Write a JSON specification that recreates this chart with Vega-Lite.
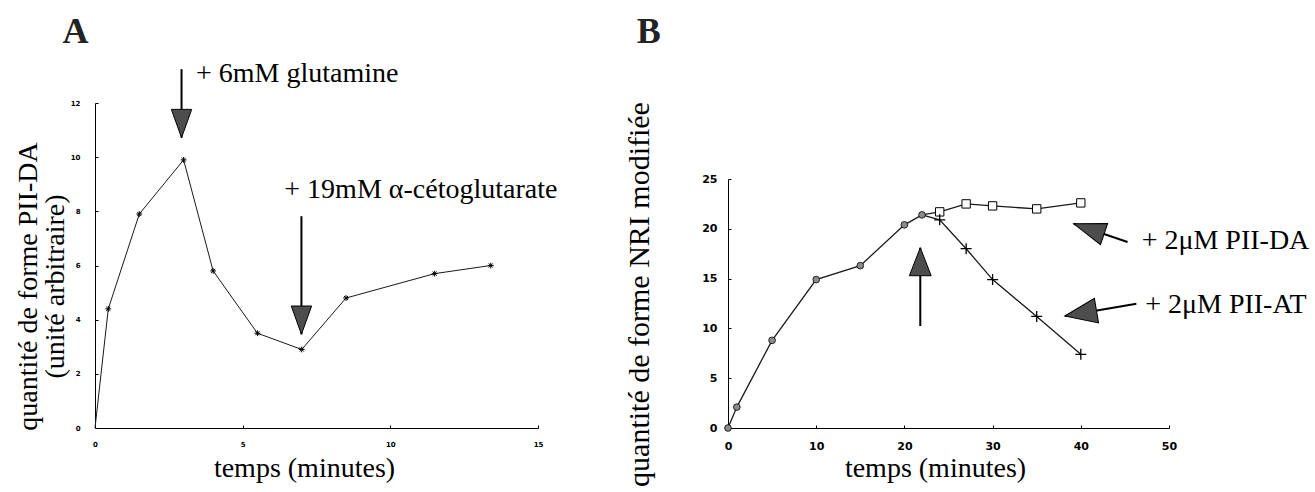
{
  "$schema": "https://vega.github.io/schema/vega-lite/v6.json",
  "background": "white",
  "padding": {"left": 14, "top": 14, "right": 0, "bottom": 0},
  "spacing": 65,
  "config": {
    "view": {"stroke": null},
    "font": "Liberation Serif",
    "axis": {
      "grid": false,
      "domainColor": "black",
      "domainWidth": 1,
      "tickColor": "black",
      "tickWidth": 1,
      "labelColor": "black",
      "labelFont": "DejaVu Sans",
      "labelFontWeight": "bold",
      "labelFlush": false,
      "labelOverlap": false,
      "titleFont": "Liberation Serif",
      "titleFontWeight": "normal",
      "titleFontSize": 28,
      "titleColor": "black"
    }
  },
  "datasets": {
    "curveA": [
      {"t": 0, "v": 0},
      {"t": 0.45, "v": 4.4},
      {"t": 1.5, "v": 7.9},
      {"t": 3, "v": 9.9},
      {"t": 4, "v": 5.8},
      {"t": 5.5, "v": 3.5},
      {"t": 7, "v": 2.9},
      {"t": 8.5, "v": 4.8},
      {"t": 11.5, "v": 5.7},
      {"t": 13.4, "v": 6.0}
    ],
    "arrowsA": [
      {"t": 2.93, "v": 13.25, "v2": 10.72},
      {"t": 6.99, "v": 7.82, "v2": 3.46}
    ],
    "textsA": [
      {"t": 3.42, "v": 12.77, "label": "+ 6mM glutamine"},
      {"t": 6.41, "v": 8.49, "label": "+ 19mM α-cétoglutarate"}
    ],
    "panelA": [{"t": -0.66, "v": 14.2, "label": "A"}],
    "curveB": [
      {"t": 0, "v": 0, "s": "base"},
      {"t": 1, "v": 2.1, "s": "base"},
      {"t": 5, "v": 8.8, "s": "base"},
      {"t": 10, "v": 14.9, "s": "base"},
      {"t": 15, "v": 16.3, "s": "base"},
      {"t": 20, "v": 20.4, "s": "base"},
      {"t": 22, "v": 21.4, "s": "base"},
      {"t": 22, "v": 21.4, "s": "DA"},
      {"t": 24, "v": 21.7, "s": "DA"},
      {"t": 27, "v": 22.5, "s": "DA"},
      {"t": 30, "v": 22.3, "s": "DA"},
      {"t": 35, "v": 22.0, "s": "DA"},
      {"t": 40, "v": 22.6, "s": "DA"},
      {"t": 22, "v": 21.4, "s": "AT"},
      {"t": 24, "v": 20.9, "s": "AT"},
      {"t": 27, "v": 18.0, "s": "AT"},
      {"t": 30, "v": 14.9, "s": "AT"},
      {"t": 35, "v": 11.2, "s": "AT"},
      {"t": 40, "v": 7.4, "s": "AT"}
    ],
    "arrowsB": [
      {"name": "up", "t": 21.8, "v": 10.24, "t2": 21.8, "v2": 18.1},
      {"name": "DA", "t": 45.3, "v": 18.67, "t2": 39.2, "v2": 20.5},
      {"name": "AT", "t": 46.3, "v": 12.48, "t2": 38.2, "v2": 11.24}
    ],
    "textsB": [
      {"t": 46.9, "v": 17.94, "label": "+ 2μM PII-DA"},
      {"t": 47.3, "v": 11.58, "label": "+ 2μM PII-AT"}
    ],
    "panelB": [{"t": -8.98, "v": 38.65, "label": "B"}]
  },
  "hconcat": [
    {
      "width": 443,
      "height": 325,
      "layer": [
        {
          "data": {"name": "curveA"},
          "mark": {"type": "line", "color": "#1a1a1a", "strokeWidth": 1},
          "encoding": {
            "x": {
              "field": "t", "type": "quantitative",
              "scale": {"domain": [0, 15], "nice": false, "zero": false},
              "axis": {
                "values": [0, 5, 10, 15], "labelFontSize": 7, "tickSize": -3, "labelPadding": 15.5,
                "title": "temps (minutes)", "titleX": 209, "titleY": 48,
                "titleBaseline": "alphabetic", "titleAlign": "center"
              }
            },
            "y": {
              "field": "v", "type": "quantitative",
              "scale": {"domain": [0, 12], "nice": false, "zero": false},
              "axis": {
                "values": [0, 2, 4, 6, 8, 10, 12], "labelFontSize": 7, "tickSize": -3, "labelPadding": 18,
                "title": ["quantité de forme PII-DA", "(unité arbitraire)"],
                "titleX": -59, "titleY": 183, "titleBaseline": "alphabetic",
                "titleAlign": "center", "titleLineHeight": 27
              }
            }
          }
        },
        {
          "data": {"name": "curveA"},
          "transform": [{"filter": "datum.t > 0"}],
          "mark": {"type": "point", "shape": "M-1,0L1,0M0,-1L0,1M-0.7,-0.7L0.7,0.7M-0.7,0.7L0.7,-0.7", "size": 34, "filled": false, "color": "black", "strokeWidth": 1, "opacity": 1},
          "encoding": {
            "x": {"field": "t", "type": "quantitative"},
            "y": {"field": "v", "type": "quantitative"}
          }
        },
        {
          "data": {"name": "arrowsA"},
          "mark": {"type": "rule", "color": "black", "strokeWidth": 2},
          "encoding": {
            "x": {"field": "t", "type": "quantitative"},
            "y": {"field": "v", "type": "quantitative"},
            "y2": {"field": "v2"}
          }
        },
        {
          "data": {"name": "arrowsA"},
          "mark": {"type": "point", "shape": "M0,0L-0.72,-2L0.72,-2Z", "size": 800, "filled": true, "fill": "#4d4d4d", "stroke": "black", "strokeWidth": 1, "opacity": 1},
          "encoding": {
            "x": {"field": "t", "type": "quantitative"},
            "y": {"field": "v2", "type": "quantitative"}
          }
        },
        {
          "data": {"name": "textsA"},
          "mark": {"type": "text", "align": "left", "baseline": "alphabetic", "font": "Liberation Serif", "fontSize": 28, "color": "black"},
          "encoding": {
            "x": {"field": "t", "type": "quantitative"},
            "y": {"field": "v", "type": "quantitative"},
            "text": {"field": "label"}
          }
        },
        {
          "data": {"name": "panelA"},
          "mark": {"type": "text", "align": "center", "baseline": "alphabetic", "font": "Liberation Serif", "fontSize": 36, "fontWeight": "bold", "color": "#222"},
          "encoding": {
            "x": {"field": "t", "type": "quantitative"},
            "y": {"field": "v", "type": "quantitative"},
            "text": {"field": "label"}
          }
        }
      ]
    },
    {
      "width": 441,
      "height": 325,
      "layer": [
        {
          "data": {"name": "curveB"},
          "mark": {"type": "line", "color": "#1a1a1a", "strokeWidth": 1.3},
          "encoding": {
            "x": {
              "field": "t", "type": "quantitative",
              "scale": {"domain": [0, 50], "nice": false, "zero": false},
              "axis": {
                "values": [0, 10, 20, 30, 40, 50], "labelFontSize": 11, "tickSize": -3, "labelPadding": 15.5,
                "title": "temps (minutes)", "titleX": 207, "titleY": 48,
                "titleBaseline": "alphabetic", "titleAlign": "center"
              }
            },
            "y": {
              "field": "v", "type": "quantitative",
              "scale": {"domain": [0, 25], "nice": false, "zero": false, "range": [325, 76]},
              "axis": {
                "values": [0, 5, 10, 15, 20, 25], "labelFontSize": 11, "tickSize": -3, "labelPadding": 14,
                "title": "quantité de forme NRI modifiée", "titleFontSize": 30,
                "titleX": -80, "titleY": 191, "titleBaseline": "alphabetic", "titleAlign": "center"
              }
            },
            "detail": {"field": "s"}
          }
        },
        {
          "data": {"name": "curveB"},
          "transform": [{"filter": "datum.s == 'base'"}],
          "mark": {"type": "point", "shape": "circle", "size": 45, "filled": true, "fill": "#8c8c8c", "stroke": "black", "strokeWidth": 0.8, "opacity": 1},
          "encoding": {
            "x": {"field": "t", "type": "quantitative"},
            "y": {"field": "v", "type": "quantitative"}
          }
        },
        {
          "data": {"name": "curveB"},
          "transform": [{"filter": "datum.s == 'DA' && datum.t > 22"}],
          "mark": {"type": "point", "shape": "square", "size": 70, "filled": true, "fill": "white", "stroke": "black", "strokeWidth": 1, "opacity": 1},
          "encoding": {
            "x": {"field": "t", "type": "quantitative"},
            "y": {"field": "v", "type": "quantitative"}
          }
        },
        {
          "data": {"name": "curveB"},
          "transform": [{"filter": "datum.s == 'AT' && datum.t > 22"}],
          "mark": {"type": "point", "shape": "M-1,0L1,0M0,-1L0,1", "size": 120, "filled": false, "color": "black", "strokeWidth": 1.3, "opacity": 1},
          "encoding": {
            "x": {"field": "t", "type": "quantitative"},
            "y": {"field": "v", "type": "quantitative"}
          }
        },
        {
          "data": {"name": "arrowsB"},
          "mark": {"type": "rule", "color": "black", "strokeWidth": 2},
          "encoding": {
            "x": {"field": "t", "type": "quantitative"},
            "y": {"field": "v", "type": "quantitative"},
            "x2": {"field": "t2"},
            "y2": {"field": "v2"}
          }
        },
        {
          "data": {"name": "arrowsB"},
          "transform": [{"filter": "datum.name == 'up'"}],
          "mark": {"type": "point", "shape": "M0,0L-0.78,-2L0.78,-2Z", "angle": 180, "size": 784, "filled": true, "fill": "#4d4d4d", "stroke": "black", "strokeWidth": 1, "opacity": 1},
          "encoding": {
            "x": {"field": "t2", "type": "quantitative"},
            "y": {"field": "v2", "type": "quantitative"}
          }
        },
        {
          "data": {"name": "arrowsB"},
          "transform": [{"filter": "datum.name == 'DA'"}],
          "mark": {"type": "point", "shape": "M0,0L-0.7,-2L0.7,-2Z", "angle": 108.7, "size": 1024, "filled": true, "fill": "#4d4d4d", "stroke": "black", "strokeWidth": 1, "opacity": 1},
          "encoding": {
            "x": {"field": "t2", "type": "quantitative"},
            "y": {"field": "v2", "type": "quantitative"}
          }
        },
        {
          "data": {"name": "arrowsB"},
          "transform": [{"filter": "datum.name == 'AT'"}],
          "mark": {"type": "point", "shape": "M0,0L-0.78,-2L0.78,-2Z", "angle": 80.3, "size": 1024, "filled": true, "fill": "#4d4d4d", "stroke": "black", "strokeWidth": 1, "opacity": 1},
          "encoding": {
            "x": {"field": "t2", "type": "quantitative"},
            "y": {"field": "v2", "type": "quantitative"}
          }
        },
        {
          "data": {"name": "textsB"},
          "mark": {"type": "text", "align": "left", "baseline": "alphabetic", "font": "Liberation Serif", "fontSize": 28, "color": "black"},
          "encoding": {
            "x": {"field": "t", "type": "quantitative"},
            "y": {"field": "v", "type": "quantitative"},
            "text": {"field": "label"}
          }
        },
        {
          "data": {"name": "panelB"},
          "mark": {"type": "text", "align": "center", "baseline": "alphabetic", "font": "Liberation Serif", "fontSize": 36, "fontWeight": "bold", "color": "#222"},
          "encoding": {
            "x": {"field": "t", "type": "quantitative"},
            "y": {"field": "v", "type": "quantitative"},
            "text": {"field": "label"}
          }
        }
      ]
    }
  ]
}
